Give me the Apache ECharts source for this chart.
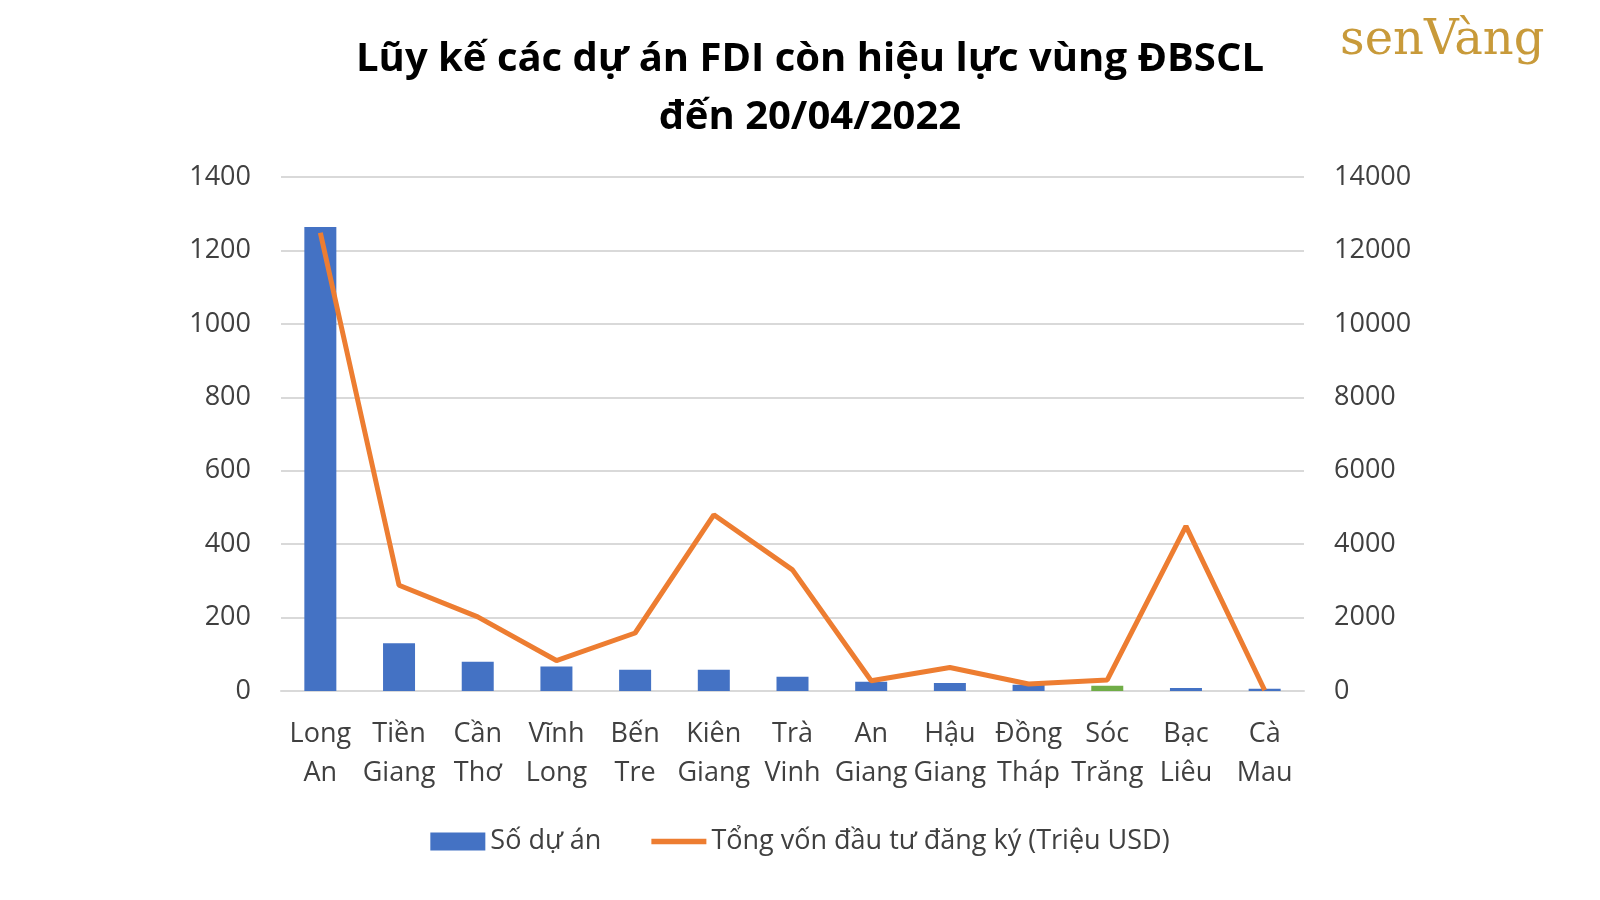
<!DOCTYPE html><html><head><meta charset="utf-8">
<script src="https://cdn.jsdelivr.net/npm/echarts@6/dist/echarts.min.js"></script>
<style>html,body{margin:0;background:#fff}#c{width:1600px;height:900px}</style></head><body><div id="c"></div>
<script>
const categories=['Long\nAn','Tiền\nGiang','Cần\nThơ','Vĩnh\nLong','Bến\nTre','Kiên\nGiang','Trà\nVinh','An\nGiang','Hậu\nGiang','Đồng\nTháp','Sóc\nTrăng','Bạc\nLiêu','Cà\nMau'];
const soDuAn=[1264,130,80,67,58,58,39,25,22,17,14,8,6];
const tongVon=[12480,2880,2020,830,1580,4800,3300,280,640,190,300,4490,20];
const F='"Open Sans", sans-serif';
const chart=echarts.init(document.getElementById('c'));
chart.setOption({
 animation:false,
 title:{text:'Lũy kế các dự án FDI còn hiệu lực vùng ĐBSCL\nđến 20/04/2022',left:805,top:26,textAlign:'center',
  textStyle:{fontFamily:F,fontSize:40,fontWeight:'bold',color:'#000',lineHeight:58}},
 graphic:[{type:'text',left:1340,top:18,style:{text:'senVàng',font:'48px "DejaVu Serif", serif',fill:'#c89a3a'}}],
 legend:{bottom:40,left:'center',itemWidth:55,itemHeight:18,itemGap:50,textStyle:{fontFamily:F,fontSize:27,color:'#404040'},
  data:[{name:'Số dự án',icon:'rect'},{name:'Tổng vốn đầu tư đăng ký (Triệu USD)',icon:'path://M0,8 L50,8 L50,13 L0,13 Z'}]},
 grid:{left:281,right:296,top:177,bottom:209},
 xAxis:{type:'category',data:categories,axisTick:{show:false},axisLine:{lineStyle:{color:'#d9d9d9',width:2}},
  axisLabel:{fontFamily:F,fontSize:27,color:'#404040',lineHeight:39,margin:24,interval:0}},
 yAxis:[{type:'value',min:0,max:1400,interval:200,axisLabel:{fontFamily:F,fontSize:27,color:'#404040',margin:30,formatter:v=>String(v)},
   splitLine:{lineStyle:{color:'#d9d9d9',width:2}}},
  {type:'value',min:0,max:14000,interval:2000,axisLabel:{fontFamily:F,fontSize:27,color:'#404040',margin:30,formatter:v=>String(v)},splitLine:{show:false}}],
 series:[{name:'Số dự án',type:'bar',data:soDuAn.map((v,i)=>i===10?{value:v,itemStyle:{color:'#70ad47'}}:v),barWidth:32,itemStyle:{color:'#4472c4'}},
  {name:'Tổng vốn đầu tư đăng ký (Triệu USD)',type:'line',yAxisIndex:1,data:tongVon,symbol:'none',lineStyle:{color:'#ed7d31',width:5},itemStyle:{color:'#ed7d31'}}]
});
</script></body></html>
